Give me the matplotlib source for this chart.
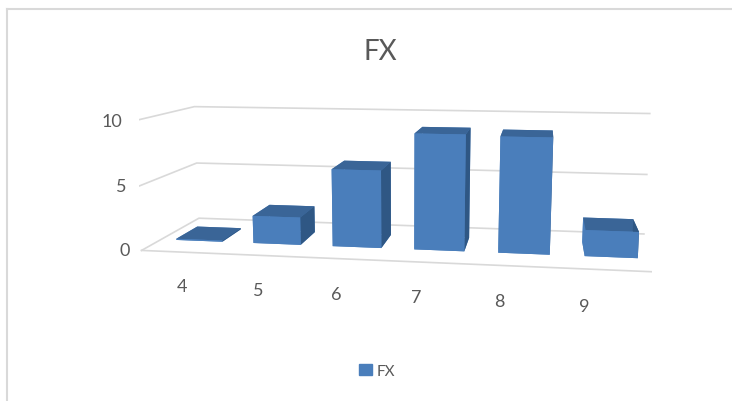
import numpy as np
import matplotlib.pyplot as plt

# data
categories = ['4', '5', '6', '7', '8', '9']
fx_values = [0.1, 2.2, 6.1, 9.0, 8.9, 2.0]
z_ticks = [0, 5, 10]

plt.rcParams['font.family'] = ['Lato', 'DejaVu Sans']

fig = plt.figure(figsize=(7.32, 4.02), dpi=100)
ax = fig.add_axes([-0.0265, -0.1055, 1.133, 1.275], projection='3d')
ax.set_proj_type('persp', focal_length=0.32)
ax.view_init(elev=10, azim=-81)
ax.set_box_aspect((6, 1.8, 1.55), zoom=1.0)

n = len(categories)
xs = np.arange(n)
w = 0.6
d = 0.38
# face order: bottom, top, front, back, left, right
face_cols = ['#4a7ebb', '#3a6597', '#4a7ebb', '#4a7ebb', '#4a7ebb', '#2f5784']
colors = face_cols * n
ax.bar3d(xs - w / 2, 0.5 - d / 2, 0, w, d, fx_values, color=colors, shade=False,
         edgecolor='none')

xmin, xmax = -0.5, n - 0.5
ymin, ymax = 0, 1
ax.set_xlim(xmin, xmax)
ax.set_ylim(ymin, ymax)
ax.set_zlim(0, 10)
ax.set_xticks([])
ax.set_yticks([])
ax.set_zticks([])

# gridlines on side wall and back wall
for z in z_ticks:
    ax.plot([xmin, xmin, xmax], [ymin, ymax, ymax], [z, z, z], color='#d9d9d9', lw=1.2, zorder=0)
ax.plot([xmin, xmax], [ymin, ymin], [0, 0], color='#d9d9d9', lw=1.2, zorder=0)

# labels
for z in z_ticks:
    ax.text(xmin - 0.15, ymin, z, str(z), ha='right', va='center', fontsize=13, color='#595959')
for i, c in enumerate(categories):
    ax.text(i - 0.28, 0.35, -4.0, c, ha='center', va='center', fontsize=13, color='#595959')

ax.set_axis_off()
for a in (ax.xaxis, ax.yaxis, ax.zaxis):
    a.set_visible(False)

fig.text(0.52, 0.87, 'FX', ha='center', va='center', fontsize=20, color='#595959')
handle = plt.Rectangle((0, 0), 1, 1, color='#4a7ebb')
fig.legend([handle], ['FX'], loc='center', bbox_to_anchor=(0.515, 0.075), frameon=False,
           fontsize=11, labelcolor='#595959', handlelength=0.8, handleheight=0.8,
           handletextpad=0.3)

# chart border (partially visible)
fig.add_artist(plt.Line2D([0.0095, 0.0095], [0, 0.975], color='#d9d9d9', lw=1.5))
fig.add_artist(plt.Line2D([0.0095, 1.0], [0.975, 0.975], color='#d9d9d9', lw=1.5))

fig.savefig('out.png', dpi=100)
